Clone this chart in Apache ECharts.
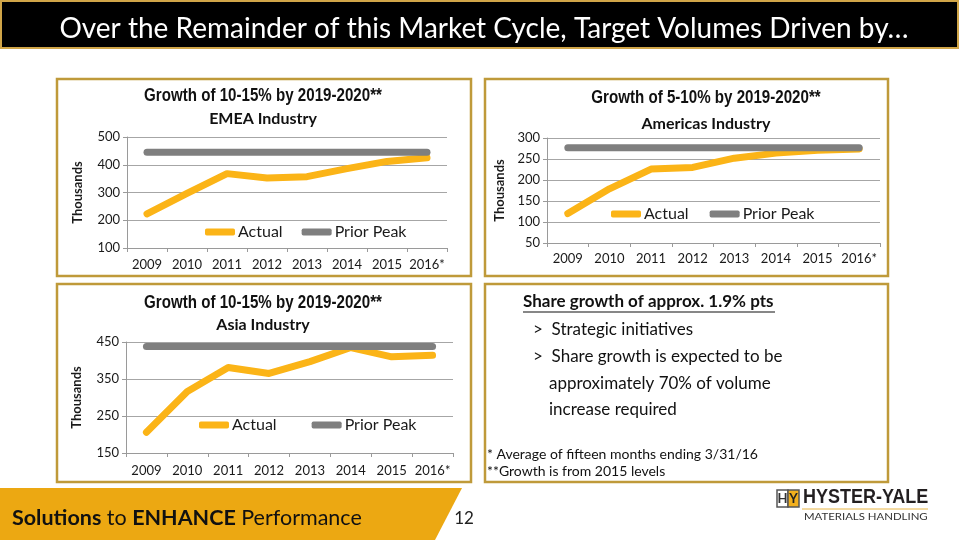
<!DOCTYPE html>
<html>
<head>
<meta charset="utf-8">
<script src="https://cdn.jsdelivr.net/npm/echarts@6/dist/echarts.min.js"></script>
<style>html,body{margin:0;padding:0;background:#fff;}#c{width:960px;height:540px;}</style>
</head>
<body>
<div id="c"></div>
<script>
var years = ['2009','2010','2011','2012','2013','2014','2015','2016*'];
var emeaActual = [223, 297, 368, 352, 357, 386, 412, 425];
var emeaPeak = [445, 445, 445, 445, 445, 445, 445, 445];
var americasActual = [120, 179, 226, 230, 252, 264, 271, 274];
var americasPeak = [277, 277, 277, 277, 277, 277, 277, 277];
var asiaActual = [206, 316, 381, 365, 397, 435, 410, 414];
var asiaPeak = [438, 438, 438, 438, 438, 438, 438, 438];
var emeaTicks = {min: 100, max: 500, interval: 100};
var americasTicks = {min: 50, max: 300, interval: 50};
var asiaTicks = {min: 150, max: 450, interval: 100};
var chartTitles = ['Growth of 10-15% by 2019-2020**', 'Growth of 5-10% by 2019-2020**', 'Growth of 10-15% by 2019-2020**'];
var chartSubtitles = ['EMEA Industry', 'Americas Industry', 'Asia Industry'];

var ORANGE = '#FBB417', GRAY = '#7F7F7F', GOLD = '#BF9A3A';
var FONT = 'Lato, "Noto Sans", sans-serif';
var NARROW = '"Liberation Sans", Arial, sans-serif';

var chart = echarts.init(document.getElementById('c'), null, {renderer: 'canvas'});

var grids = [
  {left: 127, right: 513, top: 137, bottom: 292},
  {left: 547, right: 80, top: 138, bottom: 297},
  {left: 126, right: 507, top: 342, bottom: 87}
];
var ticks = [emeaTicks, americasTicks, asiaTicks];
var xMargins = [10, 9, 11];
var nameGaps = [43, 41, 43];
var titlePos = [[263, 96, 119], [706, 98, 124], [263, 303, 325]];

function xAxis(i) {
  return {
    type: 'category', gridIndex: i, data: years, boundaryGap: true,
    axisLine: {lineStyle: {color: '#9A9A9A', width: 1}},
    axisTick: {show: true, length: 4, interval: 0, lineStyle: {color: '#9A9A9A'}},
    axisLabel: {interval: 0, hideOverlap: false, color: '#1a1a1a', fontSize: 13, fontFamily: FONT, margin: xMargins[i]}
  };
}
function yAxis(i) {
  return {
    type: 'value', gridIndex: i, min: ticks[i].min, max: ticks[i].max, interval: ticks[i].interval,
    name: 'Thousands', nameLocation: 'middle', nameRotate: 90, nameGap: nameGaps[i],
    nameTextStyle: {fontWeight: 'bold', fontSize: 13, color: '#1a1a1a', fontFamily: FONT},
    axisLine: {show: true, lineStyle: {color: '#9A9A9A'}},
    axisTick: {show: true, length: 4, lineStyle: {color: '#9A9A9A'}},
    axisLabel: {color: '#1a1a1a', fontSize: 13, fontFamily: FONT, margin: 7},
    splitLine: {lineStyle: {color: '#A6A6A6', width: 1}}
  };
}
function lineSeries(name, data, i, color) {
  return {
    name: name, type: 'line', xAxisIndex: i, yAxisIndex: i, data: data,
    showSymbol: false, symbol: 'none', animation: false,
    lineStyle: {color: color, width: 7, cap: 'round', join: 'round'},
    itemStyle: {color: color}
  };
}
function legend(left, top, gap) {
  return {
    left: left, top: top, padding: 0, itemGap: gap, itemWidth: 30, itemHeight: 7,
    icon: 'roundRect', data: ['Actual', 'Prior Peak'], selectedMode: false,
    textStyle: {fontSize: 16, color: '#1a1a1a', fontFamily: FONT, padding: [0,0,0,-2]}
  };
}
function titleTexts(i) {
  var p = titlePos[i];
  return [
    {type: 'text', x: p[0], y: p[1], scaleX: 0.84, style: {text: chartTitles[i], fill: '#111', font: 'bold 18px ' + NARROW, textAlign: 'center', textVerticalAlign: 'middle'}},
    {type: 'text', x: p[0], y: p[2], style: {text: chartSubtitles[i], fill: '#111', font: 'bold 16px ' + FONT, textAlign: 'center', textVerticalAlign: 'middle'}}
  ];
}

var graphics = [
  {type: 'rect', shape: {x: 1, y: 1, width: 957, height: 47}, style: {fill: '#000', stroke: '#D0A548', lineWidth: 2}, z: -1},
  {type: 'text', x: 484, y: 29, style: {text: 'Over the Remainder of this Market Cycle, Target Volumes Driven by…', fill: '#fff', font: '28px ' + FONT, textAlign: 'center', textVerticalAlign: 'middle'}},
  {type: 'rect', shape: {x: 57, y: 79, width: 414, height: 197}, style: {fill: 'none', stroke: GOLD, lineWidth: 2.5}, z: -1},
  {type: 'rect', shape: {x: 485, y: 79, width: 403, height: 197}, style: {fill: 'none', stroke: GOLD, lineWidth: 2.5}, z: -1},
  {type: 'rect', shape: {x: 57, y: 284, width: 414, height: 198}, style: {fill: 'none', stroke: GOLD, lineWidth: 2.5}, z: -1},
  {type: 'rect', shape: {x: 485, y: 284, width: 403, height: 198}, style: {fill: 'none', stroke: GOLD, lineWidth: 2.5}, z: -1},
  {type: 'text', x: 523, y: 302, style: {text: 'Share growth of approx. 1.9% pts', fill: '#111', font: 'bold 17px ' + FONT, textVerticalAlign: 'middle'}},
  {type: 'line', shape: {x1: 523, y1: 312, x2: 775, y2: 312}, style: {stroke: '#111', lineWidth: 1.2}},
  {type: 'text', x: 533, y: 330, style: {text: '>  Strategic initiatives', fill: '#111', font: '17px ' + FONT, textVerticalAlign: 'middle'}},
  {type: 'text', x: 533, y: 357, style: {text: '>  Share growth is expected to be', fill: '#111', font: '17px ' + FONT, textVerticalAlign: 'middle'}},
  {type: 'text', x: 549, y: 384, style: {text: 'approximately 70% of volume', fill: '#111', font: '17px ' + FONT, textVerticalAlign: 'middle'}},
  {type: 'text', x: 549, y: 410, style: {text: 'increase required', fill: '#111', font: '17px ' + FONT, textVerticalAlign: 'middle'}},
  {type: 'text', x: 487, y: 454, style: {text: '* Average of fifteen months ending 3/31/16', fill: '#111', font: '14px ' + FONT, textVerticalAlign: 'middle'}},
  {type: 'text', x: 487, y: 471, style: {text: '**Growth is from 2015 levels', fill: '#111', font: '14px ' + FONT, textVerticalAlign: 'middle'}},
  {type: 'polygon', shape: {points: [[0, 488], [462, 488], [435, 540], [0, 540]]}, style: {fill: '#ECA812'}, z: -1},
  {type: 'text', x: 12, y: 518, style: {
    text: '{b|Solutions} to {b|ENHANCE} Performance', fill: '#111', font: '21.5px ' + FONT, textVerticalAlign: 'middle',
    rich: {b: {fontWeight: 'bold', fontSize: 21.5, fontFamily: FONT, fill: '#111'}}
  }},
  {type: 'text', x: 464, y: 519, style: {text: '12', fill: '#222', font: '17px ' + FONT, textAlign: 'center', textVerticalAlign: 'middle'}},
  {type: 'rect', shape: {x: 777, y: 490, width: 11, height: 17}, style: {fill: '#fff', stroke: '#555', lineWidth: 1.5}},
  {type: 'text', x: 782.5, y: 499, style: {text: 'H', fill: '#333', font: 'bold 13px ' + FONT, textAlign: 'center', textVerticalAlign: 'middle'}},
  {type: 'rect', shape: {x: 788, y: 490, width: 11, height: 17}, style: {fill: '#F2B01E', stroke: '#555', lineWidth: 1.5}},
  {type: 'text', x: 793.5, y: 499, style: {text: 'Y', fill: '#222', font: 'bold 13px ' + FONT, textAlign: 'center', textVerticalAlign: 'middle'}},
  {type: 'text', x: 803, y: 497, scaleX: 0.9, style: {text: 'HYSTER-YALE', fill: '#231F20', font: 'bold 20px ' + NARROW, textVerticalAlign: 'middle'}},
  {type: 'line', shape: {x1: 802, y1: 509, x2: 928, y2: 509}, style: {stroke: '#E8B545', lineWidth: 1}},
  {type: 'text', x: 804, y: 517, scaleX: 1.14, style: {text: 'MATERIALS HANDLING', fill: '#333', font: '10px ' + FONT, textVerticalAlign: 'middle'}}
].concat(titleTexts(0), titleTexts(1), titleTexts(2));

var option = {
  backgroundColor: '#ffffff',
  animation: false,
  legend: [
    legend(205, 224, 19),
    legend(611, 206, 21),
    legend(199, 417, 35)
  ],
  grid: grids,
  xAxis: [xAxis(0), xAxis(1), xAxis(2)],
  yAxis: [yAxis(0), yAxis(1), yAxis(2)],
  series: [
    lineSeries('Actual', emeaActual, 0, ORANGE),
    lineSeries('Prior Peak', emeaPeak, 0, GRAY),
    lineSeries('Actual', americasActual, 1, ORANGE),
    lineSeries('Prior Peak', americasPeak, 1, GRAY),
    lineSeries('Actual', asiaActual, 2, ORANGE),
    lineSeries('Prior Peak', asiaPeak, 2, GRAY)
  ],
  graphic: graphics
};
chart.setOption(option);
</script>
</body>
</html>
